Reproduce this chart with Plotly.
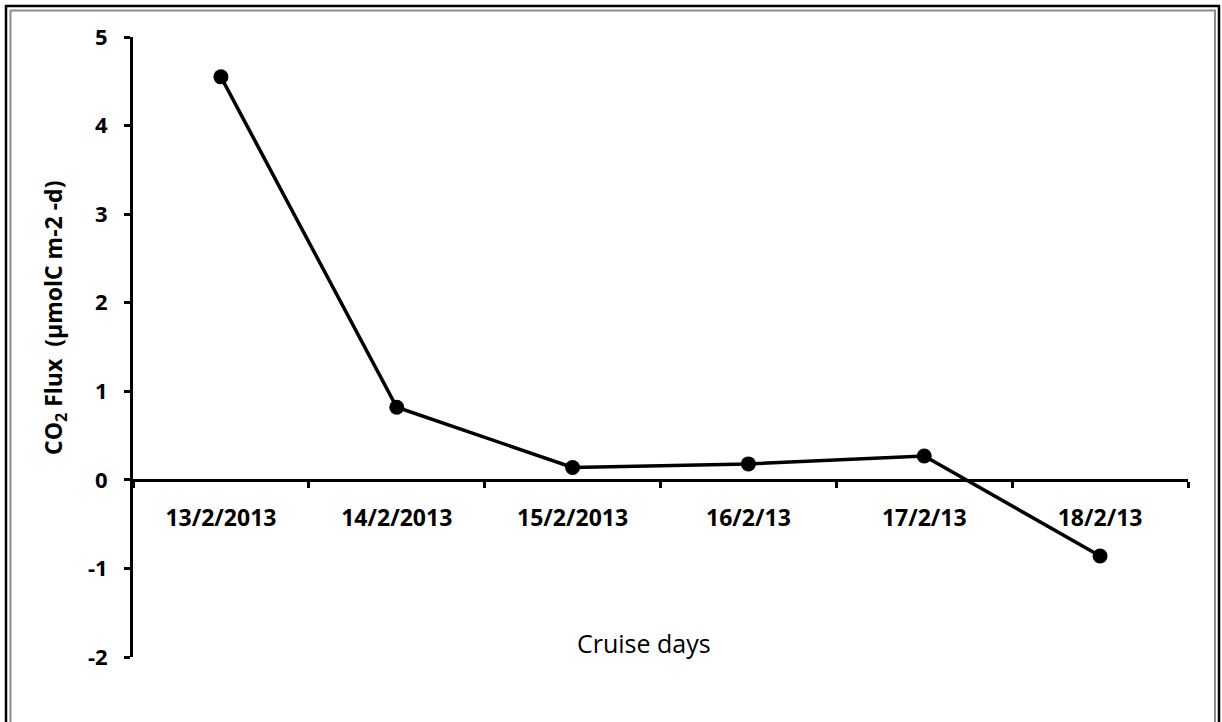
import plotly.graph_objects as go

days = ["13/2/2013", "14/2/2013", "15/2/2013", "16/2/13", "17/2/13", "18/2/13"]
flux = [4.55, 0.82, 0.14, 0.18, 0.27, -0.86]
y_ticks = [-2, -1, 0, 1, 2, 3, 4, 5]

W, H = 1222, 722
L, R, T, B = 133, 34, 37, 65
pw = W - L - R
ph = H - T - B

def px(x):
    return (x - L) / pw

def py(y):
    return (H - B - y) / ph

FONT = "Open Sans"

fig = go.Figure()
fig.add_trace(go.Scatter(
    x=days, y=flux, mode="lines+markers",
    line=dict(color="black", width=3.5),
    marker=dict(color="black", size=15),
    showlegend=False,
))

fig.update_layout(
    width=W, height=H,
    margin=dict(l=L, r=R, t=T, b=B),
    plot_bgcolor="white", paper_bgcolor="white",
    xaxis=dict(
        type="category", range=[-0.5, 5.5],
        anchor="free", position=2 / 7,
        showline=True, linecolor="black", linewidth=3,
        ticks="outside", ticklen=6, tickwidth=2.5, tickcolor="black",
        tickson="boundaries",
        showgrid=False, zeroline=False,
        tickfont=dict(family=FONT, size=23, color="black", weight="bold"),
        ticklabelstandoff=17,
    ),
    yaxis=dict(
        range=[-2, 5], tickvals=y_ticks, ticktext=[str(v) for v in y_ticks],
        showline=True, linecolor="black", linewidth=3,
        ticks="outside", ticklen=6, tickwidth=2.5, tickcolor="black",
        showgrid=False, zeroline=False,
        tickfont=dict(family=FONT, size=22, color="black", weight="bold"),
        ticklabelstandoff=12,
    ),
    annotations=[
        dict(text="Cruise days", x=px(644), y=py(643), xref="paper", yref="paper",
             showarrow=False, xanchor="center", yanchor="middle",
             font=dict(family=FONT, size=25, color="black")),
        dict(text="CO<sub>2</sub> Flux  (µmolC m-2 -d)", textangle=-90,
             x=px(54), y=py(318), xref="paper", yref="paper",
             showarrow=False, xanchor="center", yanchor="middle",
             font=dict(family=FONT, size=23, color="black", weight="bold")),
    ],
    shapes=[
        dict(type="rect", xref="paper", yref="paper",
             x0=px(6), x1=px(1219), y0=py(6), y1=py(730),
             line=dict(color="black", width=2.5)),
        dict(type="rect", xref="paper", yref="paper",
             x0=px(10.5), x1=px(1215), y0=py(10.5), y1=py(726),
             line=dict(color="#8c8c8c", width=2)),
    ],
)

fig.write_html("out.html", config={"displayModeBar": False},
               post_script="document.body.style.margin='0px';")
